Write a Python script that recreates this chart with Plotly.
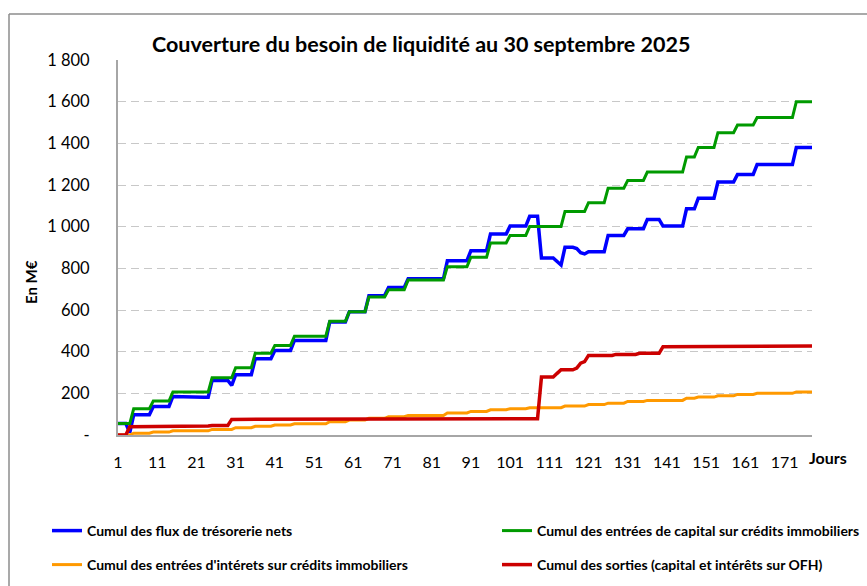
import plotly.graph_objects as go

# ---------------- data ----------------
days = list(range(1, 179))

flux_nets = [
    55, 55, 55, 12, 97, 97, 97, 97, 97, 137,
    137, 137, 137, 137, 185, 184, 184, 183, 183, 183,
    182, 182, 181, 181, 262, 262, 262, 262, 262, 238,
    289, 289, 289, 289, 289, 366, 366, 366, 366, 366,
    406, 406, 406, 406, 406, 454, 454, 454, 454, 454,
    454, 454, 454, 454, 542, 542, 542, 542, 542, 592,
    592, 592, 592, 592, 669, 669, 669, 669, 669, 708,
    708, 708, 708, 708, 750, 750, 750, 750, 750, 750,
    750, 750, 750, 750, 837, 837, 837, 837, 837, 837,
    885, 885, 885, 885, 885, 965, 965, 965, 965, 965,
    1003, 1003, 1003, 1003, 1003, 1050, 1050, 1050, 850, 850,
    850, 850, 833, 816, 901, 901, 901, 895, 875, 869,
    880, 880, 880, 880, 880, 958, 958, 958, 958, 958,
    990, 990, 990, 990, 990, 1035, 1035, 1035, 1035, 1003,
    1003, 1003, 1003, 1003, 1003, 1086, 1086, 1086, 1137, 1137,
    1137, 1137, 1137, 1214, 1214, 1214, 1214, 1214, 1251, 1251,
    1251, 1251, 1251, 1298, 1298, 1298, 1298, 1298, 1298, 1298,
    1298, 1298, 1298, 1380, 1380, 1380, 1380, 1380,
]

entrees_capital = [
    55, 55, 55, 55, 126, 126, 126, 126, 126, 163,
    163, 163, 163, 163, 206, 206, 206, 206, 206, 206,
    206, 206, 206, 206, 275, 275, 275, 275, 275, 275,
    323, 323, 323, 323, 323, 393, 393, 393, 393, 393,
    430, 430, 430, 430, 430, 474, 474, 474, 474, 474,
    474, 474, 474, 474, 546, 546, 546, 546, 546, 592,
    592, 592, 592, 592, 663, 663, 663, 663, 663, 697,
    697, 697, 697, 697, 744, 744, 744, 744, 744, 744,
    744, 744, 744, 744, 808, 808, 808, 808, 808, 808,
    853, 853, 853, 853, 853, 922, 922, 922, 922, 922,
    958, 958, 958, 958, 958, 1001, 1001, 1001, 1001, 1001,
    1001, 1001, 1001, 1001, 1073, 1073, 1073, 1073, 1073, 1073,
    1115, 1115, 1115, 1115, 1115, 1185, 1185, 1185, 1185, 1185,
    1222, 1222, 1222, 1222, 1222, 1262, 1262, 1262, 1262, 1262,
    1262, 1262, 1262, 1262, 1262, 1335, 1335, 1335, 1380, 1380,
    1380, 1380, 1380, 1451, 1451, 1451, 1451, 1451, 1488, 1488,
    1488, 1488, 1488, 1524, 1524, 1524, 1524, 1524, 1524, 1524,
    1524, 1524, 1524, 1600, 1600, 1600, 1600, 1600,
]

entrees_interets = [
    0, 0, 0, 0, 9, 9, 9, 9, 9, 14,
    14, 14, 14, 14, 20, 20, 20, 20, 20, 20,
    20, 20, 20, 20, 27, 27, 27, 27, 27, 27,
    35, 35, 35, 35, 35, 42, 42, 42, 42, 42,
    48, 48, 48, 48, 48, 54, 54, 54, 54, 54,
    54, 54, 54, 54, 64, 64, 64, 64, 64, 72,
    72, 72, 72, 72, 80, 80, 80, 80, 80, 88,
    88, 88, 88, 88, 94, 94, 94, 94, 94, 94,
    94, 94, 94, 94, 106, 106, 106, 106, 106, 106,
    113, 113, 113, 113, 113, 121, 121, 121, 121, 121,
    126, 126, 126, 126, 126, 131, 131, 131, 131, 131,
    131, 131, 131, 131, 139, 139, 139, 139, 139, 139,
    146, 146, 146, 146, 146, 153, 153, 153, 153, 153,
    161, 161, 161, 161, 161, 166, 166, 166, 166, 166,
    166, 166, 166, 166, 166, 177, 177, 177, 182, 182,
    182, 182, 182, 188, 188, 188, 188, 188, 195, 195,
    195, 195, 195, 200, 200, 200, 200, 200, 200, 200,
    200, 200, 200, 207, 207, 207, 207, 207,
]

sorties = [
    0, 0, 0, 40, 40, 40, 40, 40, 40, 41,
    41, 41, 41, 41, 43, 43, 43, 43, 43, 43,
    43, 43, 43, 43, 46, 46, 46, 46, 46, 75,
    75, 75, 75, 75, 75, 75, 75, 75, 75, 75,
    75, 75, 75, 75, 75, 75, 75, 75, 75, 75,
    76, 76, 76, 76, 76, 76, 76, 76, 76, 76,
    76, 76, 76, 76, 76, 76, 76, 76, 76, 76,
    77, 77, 77, 77, 77, 77, 77, 77, 77, 77,
    77, 77, 77, 77, 77, 77, 77, 77, 77, 77,
    78, 78, 78, 78, 78, 78, 78, 78, 78, 78,
    78, 78, 78, 78, 78, 78, 78, 78, 278, 278,
    278, 278, 296, 313, 313, 313, 313, 321, 345, 352,
    382, 382, 382, 382, 382, 382, 382, 387, 387, 387,
    387, 387, 387, 392, 392, 392, 392, 392, 392, 424,
    424, 424, 424, 424, 424, 424, 424, 424, 424, 424,
    424, 424, 424, 424, 424, 424, 424, 424, 424, 424,
    426, 426, 426, 426, 426, 426, 426, 426, 426, 426,
    427, 427, 427, 427, 427, 427, 427, 427,
]

series_names = [
    "Cumul des flux de trésorerie nets",
    "Cumul des entrées de capital sur crédits immobiliers",
    "Cumul des entrées d'intérets sur crédits immobiliers",
    "Cumul des sorties (capital et intérêts sur OFH)",
]

x_tick_vals = [1, 11, 21, 31, 41, 51, 61, 71, 81, 91, 101, 111, 121, 131, 141, 151, 161, 171]
y_tick_vals = [0, 200, 400, 600, 800, 1000, 1200, 1400, 1600, 1800]
y_tick_text = ["-", "200", "400", "600", "800", "1 000", "1 200", "1 400", "1 600", "1 800"]

title_text = "Couverture du besoin de liquidité au 30 septembre 2025"
y_title = "En M€"
x_title = "Jours"

# ---------------- figure ----------------
FONT = "Lato"
colors = ["#0000FF", "#009A00", "#FF9900", "#CC0000"]
widths = [3.5, 3.0, 3.0, 3.5]
legend_ids = ["legend", "legend2", "legend3", "legend4"]
values = [flux_nets, entrees_capital, entrees_interets, sorties]

L, R, T, B = 118, 55, 60, 151
W, H = 867, 586
pw, ph = W - L - R, H - T - B


def px_x(px):
    return (px - L) / pw


def px_y(py):
    return (H - B - py) / ph


fig = go.Figure()
for name, vals, col, w, lg in zip(series_names, values, colors, widths, legend_ids):
    fig.add_trace(go.Scatter(
        x=days, y=vals, mode="lines", name=name,
        line=dict(color=col, width=w), legend=lg,
    ))

# legend slots: (left px, centre y px)
legend_pos = [(47, 531), (497, 531), (47, 565), (497, 565)]
legend_layouts = {}
for lg, (lx, ly) in zip(legend_ids, legend_pos):
    legend_layouts[lg] = dict(
        orientation="h", x=px_x(lx), y=px_y(ly), xanchor="left", yanchor="middle",
        font=dict(family=FONT, size=14, color="black", weight="bold"),
        bgcolor="rgba(0,0,0,0)", itemclick=False, itemdoubleclick=False,
    )

fig.update_layout(
    width=W, height=H,
    margin=dict(l=L, r=R, t=T, b=B, pad=0, autoexpand=False),
    paper_bgcolor="white", plot_bgcolor="white",
    font=dict(family=FONT, color="black"),
    showlegend=True,
    xaxis=dict(
        range=[1, 178], tickmode="array", tickvals=x_tick_vals,
        ticktext=[str(v) for v in x_tick_vals],
        showgrid=False, zeroline=False, showline=True,
        linecolor="#A6A6A6", linewidth=2, ticks="",
        tickfont=dict(family=FONT, size=16, color="black"),
        ticklabelstandoff=12,
    ),
    yaxis=dict(
        range=[0, 1800], tickmode="array", tickvals=y_tick_vals, ticktext=y_tick_text,
        showgrid=True, gridcolor="#C8C8C8", gridwidth=1.3, griddash="8px,5px",
        zeroline=False, showline=True, linecolor="#A6A6A6", linewidth=2, ticks="",
        tickfont=dict(family=FONT, size=16.5, color="black"),
        ticklabelstandoff=23,
    ),
    annotations=[
        dict(text=title_text, x=px_x(421), y=px_y(44), xref="paper", yref="paper",
             showarrow=False, xanchor="center", yanchor="middle",
             font=dict(family=FONT, size=21.5, color="black", weight="bold")),
        dict(text=y_title, x=px_x(31), y=px_y(282), xref="paper", yref="paper",
             showarrow=False, textangle=-90, xanchor="center", yanchor="middle",
             font=dict(family=FONT, size=15, color="black", weight="bold")),
        dict(text=x_title, x=px_x(828), y=px_y(458), xref="paper", yref="paper",
             showarrow=False, xanchor="center", yanchor="middle",
             font=dict(family=FONT, size=16, color="black", weight="bold")),
    ],
    shapes=[
        dict(type="line", xref="paper", yref="paper",
             x0=px_x(9), x1=px_x(880), y0=px_y(14), y1=px_y(14),
             line=dict(color="#8C8C8C", width=1.5)),
        dict(type="line", xref="paper", yref="paper",
             x0=px_x(9), x1=px_x(9), y0=px_y(14), y1=px_y(600),
             line=dict(color="#8C8C8C", width=1.5)),
    ],
    **legend_layouts,
)

fig.write_html(
    "out.html",
    config={"displayModeBar": False},
    post_script="document.body.style.margin='0';document.body.style.overflow='hidden';",
)
